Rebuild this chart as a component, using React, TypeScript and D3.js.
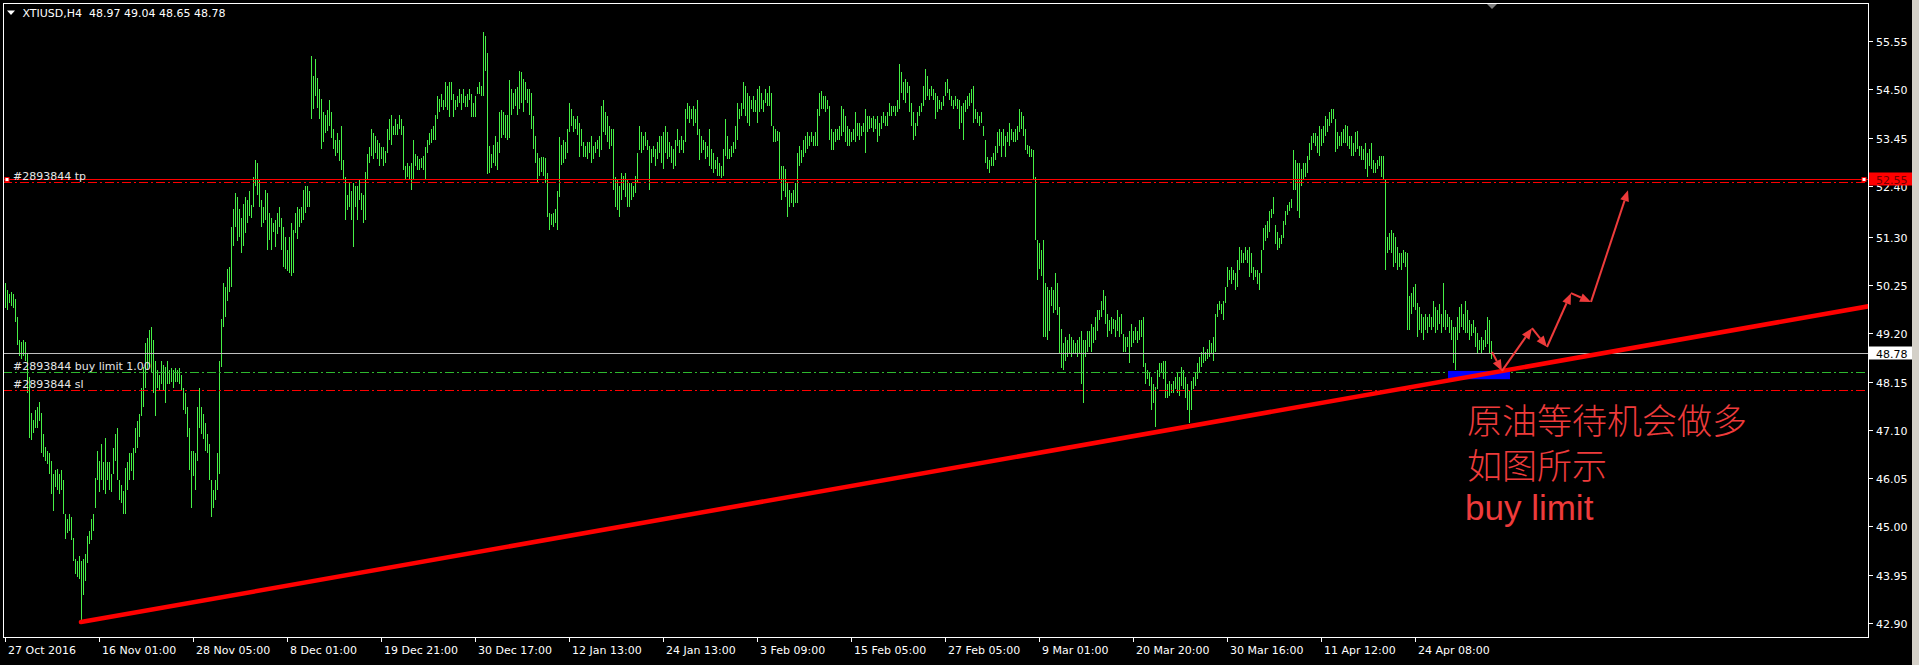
import React from "react";
import * as d3 from "d3";

const chartTitle = "XTIUSD,H4  48.97 49.04 48.65 48.78";
const priceTicks = [55.55, 54.5, 53.45, 52.4, 51.3, 50.25, 49.2, 48.15, 47.1, 46.05, 45.0, 43.95, 42.9];
const timeLabels = [
  "27 Oct 2016", "16 Nov 01:00", "28 Nov 05:00", "8 Dec 01:00", "19 Dec 21:00", "30 Dec 17:00",
  "12 Jan 13:00", "24 Jan 13:00", "3 Feb 09:00", "15 Feb 05:00", "27 Feb 05:00", "9 Mar 01:00",
  "20 Mar 20:00", "30 Mar 16:00", "11 Apr 12:00", "24 Apr 08:00",
];
const barsPerLabel = 47;

// H4 bars: [high, low]
const bars: [number, number][] = [
  [50.30,49.75],[50.15,49.70],[50.05,49.85],[50.10,49.80],[50.05,49.75],[49.95,49.45],[49.55,48.95],[49.05,48.70],[49.00,48.65],[49.05,48.70],
  [49.00,48.60],[48.77,47.90],[48.24,46.93],[47.46,46.87],[47.31,47.02],[47.53,47.15],[47.60,47.15],[47.70,47.30],[47.46,46.60],[47.00,46.50],
  [46.72,46.43],[46.65,46.35],[46.59,46.15],[46.43,45.71],[46.15,45.34],[46.22,45.85],[46.25,45.80],[46.15,45.70],[46.22,45.80],[46.00,45.27],
  [45.27,44.73],[45.15,44.85],[45.27,44.90],[45.20,44.70],[44.75,44.25],[44.30,43.97],[44.25,43.90],[44.35,43.85],[44.25,42.90],[44.30,43.50],
  [44.40,43.82],[44.80,44.20],[44.90,44.62],[45.15,44.70],[45.27,44.90],[46.06,45.40],[46.65,46.00],[46.43,45.75],[46.80,46.00],[46.40,45.80],
  [46.93,45.71],[46.40,46.00],[46.40,45.80],[46.15,45.75],[46.70,46.15],[47.00,46.43],[47.15,46.00],[46.00,45.57],[45.90,45.50],[45.78,45.27],
  [46.28,45.27],[46.40,45.80],[46.60,46.00],[46.60,46.20],[46.70,46.00],[47.15,46.60],[47.30,46.70],[47.45,46.95],[48.00,47.40],[48.46,47.60],
  [48.98,48.00],[49.10,48.40],[49.27,48.46],[49.33,48.33],[49.05,47.90],[48.60,47.40],[48.40,48.00],[48.30,47.95],[48.60,48.10],[48.50,47.95],
  [48.46,47.68],[48.60,48.10],[48.40,48.10],[48.45,48.15],[48.40,48.00],[48.45,48.15],[48.40,48.15],[48.45,48.10],[48.30,47.95],[48.00,47.53],
  [47.90,47.45],[47.60,46.95],[47.15,46.22],[46.65,45.40],[46.65,46.10],[46.60,45.80],[47.60,46.43],[48.00,47.15],[47.60,47.00],[47.45,46.90],
  [47.24,46.65],[47.00,46.60],[46.80,46.00],[46.00,45.20],[45.80,45.40],[46.00,45.57],[46.60,45.80],[48.60,46.15],[49.50,48.46],[50.30,49.33],
  [50.20,49.55],[50.60,49.90],[50.65,50.10],[51.50,50.20],[51.90,51.10],[52.25,51.50],[52.15,51.20],[51.90,51.30],[51.70,50.95],[52.00,51.10],
  [52.17,51.38],[52.10,51.60],[52.30,51.75],[51.98,51.70],[52.60,51.95],[52.97,52.40],[52.90,52.20],[52.54,51.95],[52.10,51.50],[51.95,51.60],
  [52.32,51.67],[52.25,51.00],[51.82,51.23],[51.70,51.00],[51.60,51.40],[51.67,51.08],[51.82,51.35],[51.95,51.50],[51.70,51.00],[51.50,50.65],
  [51.30,50.60],[51.00,50.55],[51.30,50.50],[51.60,50.45],[51.45,50.50],[51.82,51.38],[51.95,51.25],[51.90,51.50],[51.95,51.60],[52.32,51.67],
  [52.40,51.82],[52.40,51.95],[52.30,51.95],[55.22,53.85],[54.80,54.07],[55.15,54.35],[54.75,54.10],[54.50,53.85],[54.30,53.20],[54.00,53.35],
  [53.95,53.55],[54.05,53.60],[54.28,53.70],[54.00,53.45],[53.63,53.20],[53.40,53.05],[53.55,53.12],[53.40,52.95],[53.70,52.75],[52.97,52.54],
  [52.60,51.67],[52.20,51.88],[52.48,51.95],[52.30,51.67],[52.47,51.08],[52.40,51.95],[52.40,51.67],[52.55,52.10],[52.25,51.88],[52.20,51.60],
  [52.70,51.67],[53.10,52.54],[53.25,52.90],[53.63,53.05],[53.55,52.98],[53.48,53.12],[53.40,52.98],[53.33,52.83],[53.25,52.98],[53.25,52.83],
  [53.15,52.90],[53.63,53.12],[53.85,53.40],[53.95,53.30],[53.70,53.50],[53.85,53.50],[53.75,53.50],[53.95,53.63],[53.85,53.50],[53.70,52.75],
  [52.83,52.54],[52.90,52.60],[52.83,52.54],[52.90,52.32],[53.40,52.54],[53.10,52.83],[53.05,52.75],[52.98,52.75],[53.00,52.80],[53.05,52.75],
  [53.25,52.54],[53.40,53.12],[53.55,53.30],[53.63,53.33],[53.70,53.40],[53.95,53.40],[54.35,53.85],[54.30,54.00],[54.40,54.12],[54.28,54.05],
  [54.65,54.12],[54.58,54.05],[54.65,53.90],[54.65,54.28],[54.40,53.90],[54.28,54.05],[54.35,54.12],[54.50,54.20],[54.40,54.05],[54.50,54.20],
  [54.35,54.12],[54.40,54.12],[54.50,54.28],[54.40,53.90],[54.20,53.90],[54.35,53.90],[54.55,54.40],[54.65,54.40],[54.58,54.35],[55.75,54.35],
  [55.65,54.90],[55.30,52.65],[53.26,52.69],[53.10,52.80],[53.30,52.90],[53.48,52.83],[53.35,52.75],[54.00,53.12],[54.05,53.45],[54.00,53.50],
  [53.95,53.45],[53.95,53.40],[54.70,53.45],[54.50,53.95],[54.43,54.07],[54.50,54.13],[54.55,53.95],[54.90,54.07],[54.87,54.20],[54.72,54.00],
  [54.65,54.28],[54.50,54.20],[54.50,53.95],[54.43,53.63],[53.92,53.20],[53.48,52.90],[53.12,52.47],[53.00,52.62],[53.04,52.70],[53.04,52.62],
  [53.00,52.47],[52.69,51.73],[51.82,51.45],[51.80,51.55],[51.82,51.50],[51.90,51.60],[52.30,51.45],[53.46,52.17],[53.30,52.85],[53.40,52.90],
  [53.35,52.98],[53.63,53.12],[54.20,53.57],[54.07,53.70],[53.92,53.57],[53.85,53.63],[53.92,53.50],[53.77,53.04],[53.63,53.26],[53.35,53.04],
  [53.26,53.04],[53.35,52.98],[53.35,53.12],[53.48,52.90],[53.26,52.98],[53.35,53.12],[53.40,53.20],[53.48,53.04],[54.13,53.19],[54.28,53.57],
  [54.00,53.50],[53.92,53.35],[53.70,53.20],[53.63,53.26],[53.63,52.32],[52.60,51.95],[52.55,51.88],[52.40,51.73],[52.69,52.10],[52.62,52.32],
  [52.69,52.17],[52.55,51.95],[52.47,51.95],[52.47,52.10],[52.40,52.17],[52.62,52.25],[53.12,52.47],[53.70,53.19],[53.57,53.12],[53.48,53.19],
  [53.57,53.26],[53.40,53.19],[53.26,52.32],[53.20,52.90],[53.26,53.04],[53.20,52.83],[53.35,52.98],[53.48,53.12],[53.48,52.90],[53.57,52.76],
  [53.70,53.12],[53.57,52.98],[53.35,53.04],[53.26,52.90],[53.20,52.76],[53.40,52.83],[53.63,53.26],[53.40,53.12],[53.48,53.19],[53.40,53.12],
  [54.07,53.35],[54.20,53.85],[54.13,53.77],[54.07,53.85],[54.13,53.70],[54.07,53.77],[54.28,53.50],[53.63,52.97],[53.48,53.12],[53.40,53.19],
  [53.35,52.98],[53.26,53.04],[53.63,52.83],[53.20,52.76],[53.12,52.69],[52.97,52.76],[53.04,52.62],[52.90,52.62],[52.83,52.58],[53.20,52.62],
  [53.85,53.05],[53.48,52.98],[53.20,52.98],[53.26,53.04],[53.35,53.12],[53.70,53.20],[54.20,53.40],[54.07,53.85],[54.20,53.92],[54.65,54.07],
  [54.58,53.92],[54.43,53.77],[54.35,53.70],[54.28,54.07],[54.35,54.00],[54.28,54.00],[54.50,53.77],[54.58,54.00],[54.43,54.07],[54.28,54.00],
  [54.50,54.20],[54.43,54.13],[54.58,54.13],[54.43,53.70],[53.70,53.35],[53.63,53.35],[53.60,53.38],[53.57,52.54],[52.83,52.10],[52.83,52.30],
  [52.76,52.17],[52.47,51.73],[52.32,51.95],[52.25,52.02],[52.32,51.95],[52.47,52.02],[53.12,52.02],[53.26,52.83],[53.19,52.90],[53.40,53.04],
  [53.48,53.12],[53.57,53.20],[53.48,53.26],[53.57,53.35],[53.48,53.26],[53.57,53.26],[54.07,53.26],[54.43,53.92],[54.47,54.07],[54.35,54.07],
  [54.35,54.00],[54.28,54.07],[54.13,53.40],[53.63,53.19],[53.57,53.19],[53.63,53.35],[53.63,53.40],[53.70,53.40],[54.13,53.48],[54.07,53.57],
  [53.92,53.35],[53.70,53.26],[53.63,53.26],[53.57,53.35],[53.63,53.40],[54.00,53.35],[53.77,53.48],[53.77,53.40],[53.70,53.48],[53.77,53.57],
  [54.07,53.12],[53.92,53.57],[53.92,53.63],[53.88,53.65],[53.92,53.57],[53.85,53.63],[53.92,53.35],[53.77,53.48],[53.92,53.63],[54.00,53.77],
  [53.92,53.70],[54.00,53.70],[54.20,53.92],[54.13,53.92],[54.13,54.00],[54.13,53.92],[54.28,54.00],[55.05,54.07],[54.87,54.43],[54.65,54.28],
  [54.72,54.20],[54.65,54.43],[54.58,54.00],[54.20,53.70],[54.00,53.40],[53.77,53.48],[54.00,53.70],[54.13,53.92],[54.20,54.00],[54.58,54.13],
  [54.94,54.28],[54.80,54.35],[54.50,54.28],[54.58,54.35],[54.50,54.28],[54.43,53.85],[54.35,54.00],[54.28,54.07],[54.22,54.05],[54.35,54.13],
  [54.65,54.35],[54.72,54.43],[54.50,54.28],[54.35,54.13],[54.28,54.07],[54.35,54.13],[54.30,54.07],[54.28,53.63],[54.13,53.77],[54.20,53.40],
  [54.28,54.00],[54.35,54.07],[54.43,54.13],[54.50,54.20],[54.58,53.77],[54.07,53.85],[54.00,53.77],[53.92,53.70],[54.00,53.77],[53.70,53.48],
  [53.40,52.90],[53.04,52.76],[52.97,52.69],[53.04,52.83],[53.12,52.83],[53.26,52.97],[53.57,53.12],[53.63,53.26],[53.57,53.04],[53.63,53.26],
  [53.48,53.04],[53.57,53.35],[53.77,53.26],[53.63,53.40],[53.57,53.35],[53.63,53.35],[53.70,53.40],[54.07,53.57],[54.00,53.63],[53.92,53.48],
  [53.63,53.19],[53.30,53.10],[53.26,53.04],[53.20,53.04],[53.19,52.54],[52.60,51.23],[51.23,50.36],[51.16,50.60],[51.00,50.45],[51.23,49.11],
  [50.29,49.11],[50.20,49.05],[50.15,49.25],[50.20,49.80],[50.15,49.65],[50.50,49.70],[50.30,49.60],[49.77,48.77],[49.30,48.45],[48.98,48.40],
  [49.11,48.60],[49.05,48.68],[49.18,48.75],[49.11,48.68],[49.05,48.75],[48.98,48.75],[49.05,48.68],[49.11,48.75],[49.25,48.10],[49.05,47.68],
  [49.05,48.68],[49.25,48.80],[49.25,48.90],[49.40,48.80],[49.33,48.98],[49.55,49.05],[49.70,49.25],[49.70,49.48],[49.90,49.55],[50.14,49.70],
  [50.00,49.40],[49.62,49.11],[49.48,49.25],[49.55,49.18],[49.50,49.30],[49.48,49.11],[49.70,49.25],[49.55,49.11],[49.62,49.18],[49.18,48.80],
  [49.11,48.80],[49.11,48.90],[49.25,48.55],[49.40,48.90],[49.25,48.98],[49.33,49.05],[49.25,48.98],[49.48,49.05],[49.48,49.11],[49.55,48.46],
  [48.55,48.10],[48.40,48.20],[48.33,48.05],[48.24,47.53],[48.10,47.68],[48.03,47.16],[48.40,47.98],[48.55,48.24],[48.55,48.33],[48.60,48.20],
  [48.60,47.80],[48.10,47.80],[48.17,47.83],[48.10,47.90],[48.17,47.90],[48.24,47.98],[48.33,47.90],[48.24,47.83],[48.46,48.05],[48.40,47.98],
  [48.24,47.80],[48.10,47.53],[47.96,47.24],[48.17,47.53],[48.24,47.98],[48.33,48.05],[48.55,48.20],[48.68,48.33],[48.80,48.46],[48.90,48.55],
  [48.80,48.60],[48.85,48.65],[49.05,48.68],[48.98,48.75],[49.11,48.60],[49.62,48.80],[49.83,49.55],[49.90,49.70],[49.83,49.62],[49.90,49.48],
  [50.20,49.86],[50.64,50.20],[50.57,50.35],[50.64,50.28],[50.57,50.35],[50.50,50.14],[50.79,50.20],[51.08,50.57],[51.00,50.72],[50.94,50.72],
  [51.08,50.79],[51.00,50.72],[51.08,50.43],[50.94,50.50],[50.64,50.35],[50.57,50.43],[50.57,50.28],[50.50,50.14],[51.00,50.50],[51.49,51.00],
  [51.55,51.20],[51.63,51.27],[51.85,51.40],[51.90,51.70],[52.17,51.80],[51.56,51.13],[51.40,51.00],[51.27,51.06],[51.34,51.13],[51.63,51.27],
  [51.85,51.56],[51.98,51.78],[52.05,51.85],[52.12,51.92],[53.19,52.32],[52.97,52.32],[52.90,51.85],[52.90,51.70],[52.76,52.40],[52.90,52.54],
  [52.90,52.60],[53.05,52.68],[53.33,52.97],[53.48,53.19],[53.55,53.33],[53.55,53.26],[53.48,53.12],[53.70,53.05],[53.63,53.26],[53.70,53.33],
  [53.92,53.48],[53.85,53.57],[54.00,53.70],[54.07,53.77],[54.07,53.85],[53.85,53.13],[53.57,53.20],[53.48,53.26],[53.57,53.26],[53.63,53.33],
  [53.72,53.33],[53.70,53.26],[53.48,53.20],[53.48,53.05],[53.33,53.05],[53.57,53.13],[53.60,53.20],[53.26,53.05],[53.26,52.97],[53.20,52.97],
  [53.33,52.76],[53.12,52.60],[53.20,52.83],[53.33,52.76],[52.97,52.68],[52.90,52.68],[52.97,52.76],[53.05,52.83],[53.05,52.60],[53.05,52.54],
  [52.54,50.58],[51.30,50.94],[51.37,51.01],[51.45,50.94],[51.38,50.65],[51.30,50.72],[51.08,50.58],[50.94,50.65],[50.94,50.58],[51.01,50.72],
  [50.97,50.65],[50.94,49.27],[50.00,49.27],[50.07,49.62],[50.20,49.77],[50.28,49.70],[49.86,49.11],[49.77,49.27],[49.62,49.20],[49.55,49.05],
  [49.62,49.27],[49.55,49.20],[49.62,49.33],[49.55,49.27],[49.90,49.33],[49.77,49.20],[49.70,49.27],[49.83,49.40],[49.62,49.20],[50.29,49.33],
  [49.70,49.27],[49.62,49.33],[49.55,49.20],[49.48,49.05],[49.33,48.55],[49.33,48.40],[49.55,49.05],[49.77,49.20],[49.83,49.33],[49.62,49.27],
  [49.90,49.20],[49.70,49.20],[49.48,49.05],[49.40,49.13],[49.48,49.20],[49.33,48.90],[49.20,48.77],[49.05,48.84],[49.12,48.77],[49.05,48.84],
  [49.26,48.90],[49.55,48.97],[49.48,48.77],[49.04,48.65],
];

const bidPrice = 48.78;
const hLinePrice = 52.55;
const tpPrice = 52.48;
const entryPrice = 48.36;
const slPrice = 47.97;
const orderLabels = ["#2893844 tp", "#2893844 buy limit 1.00", "#2893844 sl"];

const trendStart: [number, number] = [38, 42.92];
const trendThrough: [number, number] = [931, 49.78];
const arrowPoints: [number, number][] = [
  [743.5, 48.79], [748.5, 48.38], [763.5, 49.31], [771, 48.9], [783, 50.07], [793, 49.88], [811.5, 52.31],
];
const zoneBars: [number, number] = [721.5, 752.5];
const zonePrices: [number, number] = [48.38, 48.2];
const noteLines = ["原油等待机会做多", "如图所示", "buy limit"];
const noteBar = 731;
const notePrices = [47.0, 46.02, 45.14];

const W = 1919;
const H = 665;
const L = 3, R = 1868, T = 3, B = 637;
const FONT = "'DejaVu Sans', Verdana, sans-serif";
const BAR_COLOR = "#46f046";
const NOTE_COLOR = "#ee3b3b";

function head(x1: number, y1: number, x2: number, y2: number, len = 11, half = 4.5) {
  const a = Math.atan2(y2 - y1, x2 - x1);
  const bx = x2 - len * Math.cos(a), by = y2 - len * Math.sin(a);
  const px = -Math.sin(a) * half, py = Math.cos(a) * half;
  return { d: `M${x2},${y2}L${bx + px},${by + py}L${bx - px},${by - py}Z`, bx, by };
}

export default function App() {
  const x = d3.scaleLinear().domain([0, bars.length - 1]).range([5, 5 + 2 * (bars.length - 1)]);
  const y = d3.scaleLinear().domain([42.9, 55.55]).range([623, 41.1]);

  const barPath = d3.path();
  bars.forEach(([h, l], i) => {
    const xi = Math.round(x(i)) + 0.5;
    const yh = Math.round(y(h));
    let yl = Math.round(y(l));
    if (yl <= yh) yl = yh + 1;
    barPath.moveTo(xi, yh);
    barPath.lineTo(xi, yl);
  });

  const trendSlope = (trendThrough[1] - trendStart[1]) / (trendThrough[0] - trendStart[0]);
  const rightBar = x.invert(R + 5);
  const trendEndPrice = trendStart[1] + trendSlope * (rightBar - trendStart[0]);

  const hy = (p: number) => Math.round(y(p)) + 0.5;

  const arrowEls: React.ReactNode[] = [];
  for (let k = 0; k < arrowPoints.length - 1; k++) {
    const x1 = x(arrowPoints[k][0]), y1 = y(arrowPoints[k][1]);
    const x2 = x(arrowPoints[k + 1][0]), y2 = y(arrowPoints[k + 1][1]);
    const hd = head(x1, y1, x2, y2);
    arrowEls.push(
      <g key={k}>
        <line x1={x1} y1={y1} x2={hd.bx} y2={hd.by} stroke={NOTE_COLOR} strokeWidth={2} />
        <path d={hd.d} fill={NOTE_COLOR} />
      </g>
    );
  }

  const labelX = (k: number) => Math.round(x(k * barsPerLabel));

  return (
    <svg width={W} height={H} style={{ position: "absolute", left: 0, top: 0, display: "block" }}
      xmlns="http://www.w3.org/2000/svg">
      <defs>
        <clipPath id="plot"><rect x={L} y={T} width={R - L} height={B - T} /></clipPath>
      </defs>
      <rect x={0} y={0} width={W} height={H} fill="#000" />
      <rect x={1912} y={0} width={7} height={H} fill="#d4d0c8" />

      <g clipPath="url(#plot)">
        <path d={barPath.toString()} stroke={BAR_COLOR} strokeWidth={1} fill="none" shapeRendering="crispEdges" />

        {/* order / price lines */}
        <line x1={L} x2={R} y1={hy(bidPrice)} y2={hy(bidPrice)} stroke="#c0c0c0" strokeWidth={1} shapeRendering="crispEdges" />
        <line x1={L} x2={R} y1={hy(hLinePrice)} y2={hy(hLinePrice)} stroke="#ff0000" strokeWidth={1} shapeRendering="crispEdges" />
        <line x1={L} x2={R} y1={hy(tpPrice)} y2={hy(tpPrice)} stroke="#ff0000" strokeWidth={1} strokeDasharray="9,3,2,3" shapeRendering="crispEdges" />
        <line x1={L} x2={R} y1={hy(entryPrice)} y2={hy(entryPrice)} stroke="#2eb82e" strokeWidth={1} strokeDasharray="9,3,2,3" shapeRendering="crispEdges" />
        <line x1={L} x2={R} y1={hy(slPrice)} y2={hy(slPrice)} stroke="#ff0000" strokeWidth={1} strokeDasharray="9,3,2,3" shapeRendering="crispEdges" />

        <rect x={5} y={hy(hLinePrice) - 2} width={4} height={4} fill="#fff" stroke="#ff0000" strokeWidth={1} />
        <rect x={R - 6} y={hy(hLinePrice) - 2} width={4} height={4} fill="#fff" stroke="#ff0000" strokeWidth={1} />

        {/* zone */}
        <rect x={x(zoneBars[0])} y={y(zonePrices[0])} width={x(zoneBars[1]) - x(zoneBars[0])}
          height={y(zonePrices[1]) - y(zonePrices[0])} fill="#0000ff" />

        {/* trend line */}
        <line x1={x(trendStart[0])} y1={y(trendStart[1])} x2={R + 5} y2={y(trendEndPrice)}
          stroke="#ff0000" strokeWidth={4.5} strokeLinecap="round" />

        {arrowEls}

        <g fontFamily={FONT} fontSize={11} fill="#e6e6e6">
          <text x={13} y={hy(tpPrice) - 3}>{orderLabels[0]}</text>
          <text x={13} y={hy(entryPrice) - 3}>{orderLabels[1]}</text>
          <text x={13} y={hy(slPrice) - 3}>{orderLabels[2]}</text>
        </g>

        <text x={x(noteBar)} y={y(notePrices[0])} fontFamily="'Noto Sans CJK SC', sans-serif" fontWeight={300} fontSize={35} fill={NOTE_COLOR}>{noteLines[0]}</text>
        <text x={x(noteBar)} y={y(notePrices[1])} fontFamily="'Noto Sans CJK SC', sans-serif" fontWeight={300} fontSize={35} fill={NOTE_COLOR}>{noteLines[1]}</text>
        <text x={x(noteBar) - 2} y={y(notePrices[2])} fontFamily="'Liberation Sans', Arial, sans-serif" fontSize={35} fill={NOTE_COLOR}>{noteLines[2]}</text>
      </g>

      {/* frame */}
      <rect x={L + 0.5} y={T + 0.5} width={R - L} height={B - T} fill="none" stroke="#fff" strokeWidth={1} shapeRendering="crispEdges" />

      {/* header */}
      <path d="M7,10.5L15,10.5L11,15Z" fill="#fff" />
      <text x={22.5} y={17.3} fontFamily={FONT} fontSize={11} fill="#fff" style={{ whiteSpace: "pre" }} xmlSpace="preserve">{chartTitle}</text>

      {/* shift marker */}
      <path d={`M${x(bars.length - 1) - 4},${T + 1}L${x(bars.length - 1) + 6},${T + 1}L${x(bars.length - 1) + 1},${T + 6}Z`} fill="#808080" />

      {/* price axis */}
      <g fontFamily={FONT} fontSize={11} fill="#fff">
        {priceTicks.map((t) => (
          <g key={t}>
            <line x1={R + 1} x2={R + 5} y1={hy(t)} y2={hy(t)} stroke="#fff" shapeRendering="crispEdges" />
            <text x={R + 8} y={hy(t) + 4}>{t.toFixed(2)}</text>
          </g>
        ))}
      </g>
      <rect x={R + 1} y={hy(hLinePrice) - 7} width={43} height={13} fill="#ff0000" />
      <text x={R + 8} y={hy(hLinePrice) + 4} fontFamily={FONT} fontSize={11} fill="#700000">{hLinePrice.toFixed(2)}</text>
      <rect x={R + 1} y={hy(bidPrice) - 7} width={43} height={13} fill="#fff" />
      <text x={R + 8} y={hy(bidPrice) + 4} fontFamily={FONT} fontSize={11} fill="#000">{bidPrice.toFixed(2)}</text>

      {/* time axis */}
      <g fontFamily={FONT} fontSize={11} fill="#fff">
        {timeLabels.map((s, k) => (
          <g key={s}>
            <line x1={labelX(k) + 0.5} x2={labelX(k) + 0.5} y1={B + 1} y2={B + 5} stroke="#fff" shapeRendering="crispEdges" />
            <text x={labelX(k) + 3} y={B + 17}>{s}</text>
          </g>
        ))}
      </g>
    </svg>
  );
}
